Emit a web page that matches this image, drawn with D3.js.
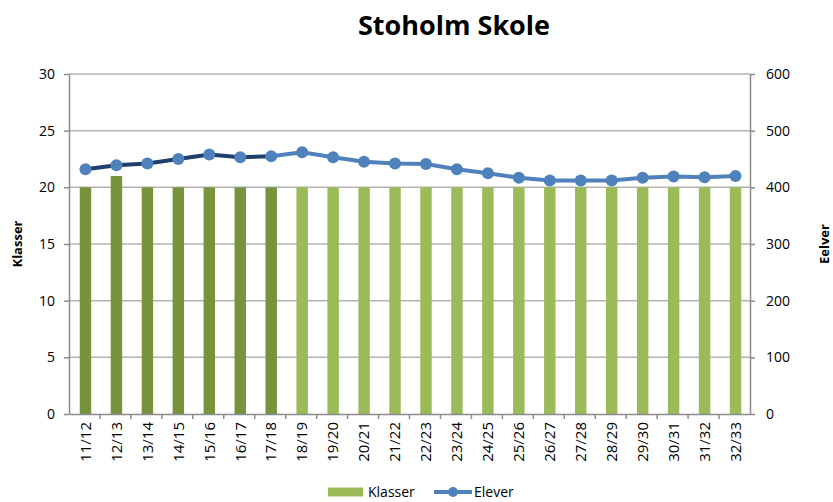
<!DOCTYPE html>
<html>
<head>
<meta charset="utf-8">
<script src="https://cdn.jsdelivr.net/npm/d3@7"></script>
<style>
  body { margin: 0; background: #fff; }
  svg text { font-family: "Open Sans", sans-serif; fill: #000; }
</style>
</head>
<body>
<script>
// skoleår
const categories = ["11/12", "12/13", "13/14", "14/15", "15/16", "16/17", "17/18", "18/19",
  "19/20", "20/21", "21/22", "22/23", "23/24", "24/25", "25/26", "26/27", "27/28",
  "28/29", "29/30", "30/31", "31/32", "32/33"];
// antal klasser (venstre akse)
const klasser = [20, 21, 20, 20, 20, 20, 20, 20, 20, 20, 20, 20, 20, 20, 20, 20, 20, 20, 20, 20, 20, 20];
// antal elever (højre akse)
const elever = [432, 439, 442, 450, 458, 453, 455, 462, 453, 445, 442, 441, 432, 425,
  417, 412, 412, 412, 417, 419, 418, 420];
// sidste faktiske år, resten er prognose
const sidsteFaktisk = "17/18";

const leftTicks = [0, 5, 10, 15, 20, 25, 30];
const rightTicks = [0, 100, 200, 300, 400, 500, 600];

const W = 833, H = 502;
const margin = {top: 74, right: 83, bottom: 88, left: 69};
const width = W - margin.left - margin.right,
      height = H - margin.top - margin.bottom;

const svg = d3.select("body").append("svg")
  .attr("width", W).attr("height", H);

svg.append("text")
  .attr("x", 454).attr("y", 35)
  .attr("text-anchor", "middle")
  .style("font-size", "27px").style("font-weight", "bold")
  .text("Stoholm Skole");

const g = svg.append("g")
  .attr("transform", "translate(" + margin.left + "," + margin.top + ")");

const x = d3.scaleBand().domain(categories).range([0, width]);
const yL = d3.scaleLinear().domain([0, 30]).range([height, 0]);
const yR = d3.scaleLinear().domain([0, 600]).range([height, 0]);

// gridlines
g.append("g").selectAll("line")
  .data(leftTicks.filter(d => d > 0))
  .enter().append("line")
  .attr("x1", 0).attr("x2", width)
  .attr("y1", d => yL(d)).attr("y2", d => yL(d))
  .attr("stroke", "#b3b3b3").attr("stroke-width", 1.5);

// bars
const cut = categories.indexOf(sidsteFaktisk);
const bw = x.bandwidth() * 0.37;
g.append("g").selectAll("rect")
  .data(categories)
  .enter().append("rect")
  .attr("x", d => x(d) + x.bandwidth() / 2 - bw / 2 + 1)
  .attr("width", bw)
  .attr("y", (d, i) => yL(klasser[i]))
  .attr("height", (d, i) => height - yL(klasser[i]))
  .attr("fill", (d, i) => i <= cut ? "#77933c" : "#9bbb59");

// axes
const axisColor = "#8c8c8c";
const left = g.append("g")
  .call(d3.axisLeft(yL).tickValues(leftTicks).tickSize(5).tickSizeOuter(0).tickPadding(9));
const right = g.append("g")
  .attr("transform", "translate(" + width + ",0)")
  .call(d3.axisRight(yR).tickValues(rightTicks).tickSize(5).tickSizeOuter(0).tickPadding(11));
const bottom = g.append("g")
  .attr("transform", "translate(0," + height + ")")
  .call(d3.axisBottom(x).tickSize(0).tickSizeOuter(0));

[left, right, bottom].forEach(a => {
  a.select(".domain").attr("stroke", axisColor).attr("stroke-width", 1.5);
  a.selectAll(".tick line").attr("stroke", axisColor).attr("stroke-width", 1.5);
  a.selectAll("text").style("font-family", "Open Sans").style("font-size", "14px").attr("fill", "#333");
});

// category boundary ticks
bottom.selectAll(".boundary")
  .data(categories.slice(1))
  .enter().append("line")
  .attr("class", "boundary")
  .attr("x1", d => x(d)).attr("x2", d => x(d))
  .attr("y1", 0).attr("y2", 5)
  .attr("stroke", axisColor).attr("stroke-width", 1.5);

bottom.selectAll(".tick text")
  .attr("transform", "rotate(-90)")
  .attr("text-anchor", "end")
  .attr("x", -8).attr("y", 1)
  .attr("dy", "0.35em")
  .attr("fill", "#1a1a1a")
  .style("font-size", "15px");

// line
const cx = d => x(d) + x.bandwidth() / 2 + 1;
const line = d3.line()
  .x(d => cx(d))
  .y(d => yR(elever[categories.indexOf(d)]));

g.append("path")
  .datum(categories.slice(cut))
  .attr("d", line)
  .attr("fill", "none").attr("stroke", "#4f81bd").attr("stroke-width", 4);
g.append("path")
  .datum(categories.slice(0, cut + 1))
  .attr("d", line)
  .attr("fill", "none").attr("stroke", "#1f3f6e").attr("stroke-width", 4);

g.append("g").selectAll("circle")
  .data(categories)
  .enter().append("circle")
  .attr("cx", d => cx(d))
  .attr("cy", (d, i) => yR(elever[i]))
  .attr("r", 6)
  .attr("fill", "#4f81bd");

// axis titles
svg.append("text")
  .attr("transform", "translate(22," + (margin.top + height / 2) + ") rotate(-90)")
  .attr("text-anchor", "middle")
  .style("font-size", "13px").style("font-weight", "bold")
  .text("Klasser");
svg.append("text")
  .attr("transform", "translate(829," + (margin.top + height / 2) + ") rotate(-90)")
  .attr("text-anchor", "middle")
  .style("font-size", "13px").style("font-weight", "bold")
  .text("Eelver");

// legend
const leg = svg.append("g").attr("transform", "translate(328,492)");
leg.append("rect").attr("x", 0).attr("y", -4.5).attr("width", 35).attr("height", 9).attr("fill", "#9bbb59");
leg.append("text").attr("x", 40).attr("y", 5).style("font-size", "14px").attr("fill", "#333").text("Klasser");
leg.append("line").attr("x1", 106).attr("x2", 144).attr("y1", 0).attr("y2", 0)
  .attr("stroke", "#4f81bd").attr("stroke-width", 4);
leg.append("circle").attr("cx", 125).attr("cy", 0).attr("r", 5).attr("fill", "#4f81bd");
leg.append("text").attr("x", 146).attr("y", 5).style("font-size", "14px").attr("fill", "#333").text("Elever");
</script>
</body>
</html>
